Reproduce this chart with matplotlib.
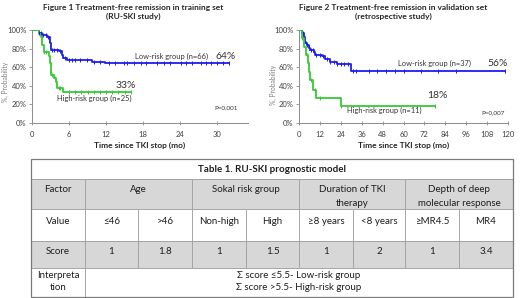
import numpy as np
import matplotlib
matplotlib.use("Agg")
import matplotlib.pyplot as plt
from matplotlib.patches import Rectangle

plt.rcParams['font.family'] = ['Lato', 'DejaVu Sans']

# ---------------- data ----------------
# Figure 1 (training set, RU-SKI study)
f1_low_t = [0, 1.1, 1.6, 2.4, 2.9, 3.1, 4.3, 4.9, 5.1, 5.7, 9.7, 11.9]
f1_low_s = [100, 97, 95, 93, 86, 79, 77, 73, 70, 68, 66, 64]
f1_low_end = 32
f1_low_cens = [1.2, 1.4, 1.8, 2.2, 2.6, 3.3, 3.6, 4.1, 4.6, 5.4, 6.0, 6.5, 7.0, 7.8, 8.9,
               10.0, 11.0, 12.4, 13.5, 14.9, 15.4, 16.5, 17.6, 18.4, 20.3, 21.4, 22.4,
               24.1, 24.9, 26.0, 27.4, 28.2, 29.0, 30.0, 31.0, 32.0]
f1_high_t = [0, 1.2, 1.5, 1.7, 1.9, 2.8, 2.9, 3.0, 3.1, 3.6, 3.9, 4.1, 5.0]
f1_high_s = [100, 96, 92, 84, 76, 72, 64, 56, 52, 48, 44, 38, 33]
f1_high_end = 16
f1_high_cens = [1.0, 1.6, 2.0, 2.3, 3.0, 3.3, 3.8, 4.3, 4.6, 6.0, 7.0, 8.0, 9.0,
                10.0, 11.0, 12.0, 13.0, 14.0, 15.0, 16.0]

# Figure 2 (validation set, retrospective study)
f2_low_t = [0, 2, 2.8, 3.5, 4.5, 5.5, 6.5, 8.5, 9, 13, 15, 18, 22, 30]
f2_low_s = [100, 97, 92, 86, 84, 81, 78, 76, 73, 72, 69, 66, 63, 56]
f2_low_end = 118
f2_low_cens = [1, 2.5, 3.8, 4.8, 6, 7, 8, 10, 12, 14, 16, 18, 20, 22, 24, 26, 28, 31,
               33, 40, 45, 50, 55, 60, 70, 80, 90, 118]
f2_high_t = [0, 1.5, 3, 3.8, 5.4, 6, 6.3, 8.2, 10, 24]
f2_high_s = [100, 91, 82, 73, 64, 55, 46, 36, 27, 18]
f2_high_end = 78
f2_high_cens = [1, 2, 4.5, 7, 9, 12, 24, 78]

f1_title = "Figure 1 Treatment-free remission in training set\n(RU-SKI study)"
f2_title = "Figure 2 Treatment-free remission in validation set\n(retrospective study)"
f1_xticks = [0, 6, 12, 18, 24, 30]
f2_xticks = [0, 12, 24, 36, 48, 60, 72, 84, 96, 108, 120]
yticks = [0, 20, 40, 60, 80, 100]
xlabel = "Time since TKI stop (mo)"
ylabel = "%, Probability"

# Table
table_title = "Table 1. RU-SKI prognostic model"
row_labels = ["Factor", "Value", "Score", "Interpreta\ntion"]
factors = ["Age", "Sokal risk group", "Duration of TKI\ntherapy", "Depth of deep\nmolecular response"]
values = ["≤46", ">46", "Non-high", "High", "≥8 years", "<8 years", "≥MR4.5", "MR4"]
scores = ["1", "1.8", "1", "1.5", "1", "2", "1", "3.4"]
interpretation = ["Σ score ≤5.5- Low-risk group", "Σ score >5.5- High-risk group"]

BLUE = "#1c1cf0"
GREEN = "#38c838"
W, H = 520, 298

fig = plt.figure(figsize=(W / 100, H / 100), dpi=100)


def fr(x0, y0, x1, y1):
    return [x0 / W, 1 - y1 / H, (x1 - x0) / W, (y1 - y0) / H]


def km(ax, t, s, end, cens, color):
    tt = list(t) + [end]
    ss = list(s) + [s[-1]]
    ax.step(tt, ss, where='post', color=color, lw=1.3, zorder=3)
    idx = np.searchsorted(np.array(t), np.array(cens), side='right') - 1
    cy = np.array(s)[idx]
    ax.plot(cens, cy, ls='none', marker='|', ms=3.2, mew=0.7, color=color, zorder=4)


def style(ax, xmax, xt):
    ax.set_xlim(0, xmax)
    ax.set_ylim(0, 100)
    ax.set_xticks(xt)
    ax.set_yticks(yticks)
    ax.set_yticklabels([f"{v}%" for v in yticks])
    for sp in ['top', 'right']:
        ax.spines[sp].set_visible(False)
    for sp in ['left', 'bottom']:
        ax.spines[sp].set_color('#8c8c8c')
        ax.spines[sp].set_linewidth(0.7)
    ax.tick_params(axis='both', labelsize=5.5, colors='#8c8c8c', labelcolor='#404040',
                   length=2.5, width=0.6, pad=1.5)
    ax.tick_params(axis='x', direction='inout', length=3, pad=4)
    ax.set_xlabel(xlabel, fontsize=6, fontweight='bold', labelpad=3, color='#262626')


LBL = 5.4
PCT = 7.5

# ---- Figure 1
ax1 = fig.add_axes(fr(32, 30, 248, 123))
km(ax1, f1_low_t, f1_low_s, f1_low_end, f1_low_cens, BLUE)
km(ax1, f1_high_t, f1_high_s, f1_high_end, f1_high_cens, GREEN)
style(ax1, 35, f1_xticks)
ax1.text(16.7, 72, "Low-risk group (n=66)", fontsize=LBL, color='#333333', va='center')
ax1.text(29.8, 72, "64%", fontsize=PCT, color='#333333', va='center')
ax1.text(13.5, 40, "33%", fontsize=PCT, color='#333333', va='center')
ax1.text(4.0, 26, "High-risk group (n=25)", fontsize=LBL, color='#333333', va='center')
ax1.text(33.3, 16, "P=0,001", fontsize=4.5, color='#333333', va='center', ha='right')
fig.text(133 / W, 1 - 12 / H, f1_title, fontsize=6, fontweight='bold', ha='center',
         va='center', linespacing=1.35, color='#262626')
fig.text(5 / W, 1 - 82 / H, ylabel, fontsize=4.8, rotation=90, ha='center', va='center',
         color='#7f7f7f')

# ---- Figure 2
ax2 = fig.add_axes(fr(299, 30, 508, 123))
km(ax2, f2_low_t, f2_low_s, f2_low_end, f2_low_cens, BLUE)
km(ax2, f2_high_t, f2_high_s, f2_high_end, f2_high_cens, GREEN)
style(ax2, 120, f2_xticks)
ax2.text(56.8, 64.5, "Low-risk group (n=37)", fontsize=LBL, color='#333333', va='center')
ax2.text(108, 64.5, "56%", fontsize=PCT, color='#333333', va='center')
ax2.text(73.5, 30, "18%", fontsize=PCT, color='#333333', va='center')
ax2.text(27.5, 14, "High-risk group (n=11)", fontsize=LBL, color='#333333', va='center')
ax2.text(118, 10.7, "P=0,007", fontsize=4.5, color='#333333', va='center', ha='right')
fig.text(393 / W, 1 - 12 / H, f2_title, fontsize=6, fontweight='bold', ha='center',
         va='center', linespacing=1.35, color='#262626')
fig.text(273 / W, 1 - 85 / H, ylabel, fontsize=4.8, rotation=90, ha='center', va='center',
         color='#7f7f7f')

# ---- Table
tab = fig.add_axes([0, 0, 1, 1])
tab.set_xlim(0, W)
tab.set_ylim(H, 0)
tab.axis('off')
tab.patch.set_alpha(0)

cols = [31, 85, 138, 192, 246, 299, 353, 405, 459, 513]
rows = [159, 179, 209, 241, 268, 297]
GRAY = "#d7d7d7"
EDGE = "#a0a0a0"
TXT = "#1e1e1e"
FS = 7


def cell(x0, x1, y0, y1, fill):
    tab.add_patch(Rectangle((x0, y0), x1 - x0, y1 - y0, facecolor=fill, edgecolor=EDGE,
                            lw=0.6))


def put(x0, x1, ytop, off, txt, bold=False):
    for i, line in enumerate(txt.split("\n")):
        tab.text((x0 + x1) / 2, ytop + off + i * 13, line, ha='center', va='center',
                 fontsize=FS, color=TXT, fontweight='bold' if bold else 'normal')


# title row
cell(cols[0], cols[-1], rows[0], rows[1], 'white')
put(cols[0], cols[-1], rows[0], 10, table_title, bold=True)
# factor row
cell(cols[0], cols[1], rows[1], rows[2], GRAY)
put(cols[0], cols[1], rows[1], 10, row_labels[0])
for k, f in enumerate(factors):
    x0, x1 = cols[1 + 2 * k], cols[3 + 2 * k]
    cell(x0, x1, rows[1], rows[2], GRAY)
    put(x0, x1, rows[1], 11, f)
# value row
cell(cols[0], cols[1], rows[2], rows[3], 'white')
put(cols[0], cols[1], rows[2], 12, row_labels[1])
for k, v in enumerate(values):
    cell(cols[1 + k], cols[2 + k], rows[2], rows[3], 'white')
    put(cols[1 + k], cols[2 + k], rows[2], 12, v)
# score row
cell(cols[0], cols[1], rows[3], rows[4], GRAY)
put(cols[0], cols[1], rows[3], 11, row_labels[2])
for k, v in enumerate(scores):
    cell(cols[1 + k], cols[2 + k], rows[3], rows[4], GRAY)
    put(cols[1 + k], cols[2 + k], rows[3], 11, v)
# interpretation row
cell(cols[0], cols[1], rows[4], rows[5], 'white')
put(cols[0], cols[1], rows[4], 7, row_labels[3])
cell(cols[1], cols[-1], rows[4], rows[5], 'white')
put(cols[1], cols[-1], rows[4], 7, "\n".join(interpretation))
# outer border
tab.add_patch(Rectangle((cols[0], rows[0]), cols[-1] - cols[0], rows[-1] - rows[0],
                        facecolor='none', edgecolor='#7a7a7a', lw=0.9))

fig.savefig("out.png", dpi=100)
